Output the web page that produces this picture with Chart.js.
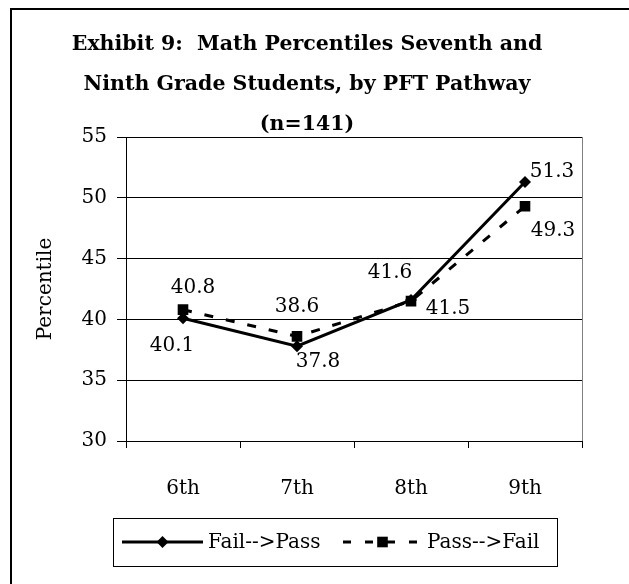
<!DOCTYPE html>
<html><head><meta charset="utf-8">
<script src="https://cdn.jsdelivr.net/npm/chart.js@4/dist/chart.umd.min.js"></script>
<style>
html,body{margin:0;padding:0;background:#fff;overflow:hidden;}
#wrap{position:relative;width:629px;height:584px;overflow:hidden;}
#frame{position:absolute;left:10px;top:8px;width:800px;height:800px;border:2px solid #000;box-sizing:border-box;}
canvas{position:absolute;left:0;top:0;}
</style></head><body>
<div id="wrap"><div id="frame"></div><canvas id="c" width="629" height="584"></canvas></div>
<script>
// ---- data ----
const categories = ['6th', '7th', '8th', '9th'];
const failToPass = [40.1, 37.8, 41.6, 51.3];
const passToFail = [40.8, 38.6, 41.5, 49.3];
const yMin = 30, yMax = 55, yStep = 5;
const seriesNames = ['Fail-->Pass', 'Pass-->Fail'];
const titleLines = ['Exhibit 9:  Math Percentiles Seventh and', 'Ninth Grade Students, by PFT Pathway', '(n=141)'];
const yTitle = 'Percentile';

// ---- styling ----
const FONT = '"DejaVu Serif", "Liberation Serif", serif';
const labelOffsets = [
  [[-11, 28], [21, 16], [-21, -27], [27, -10]],
  [[10, -22], [0, -30], [37, 8], [28, 24]]
];
const DASH = [9, 13];

function drawMarker(ctx, style, x, y, r) {
  ctx.save();
  ctx.fillStyle = '#000';
  ctx.beginPath();
  if (style === 'rectRot') {
    ctx.moveTo(x, y - r); ctx.lineTo(x + r, y); ctx.lineTo(x, y + r); ctx.lineTo(x - r, y); ctx.closePath();
  } else {
    const s = r * Math.SQRT1_2;
    ctx.rect(x - s, y - s, 2 * s, 2 * s);
  }
  ctx.fill();
  ctx.restore();
}

const deco = {
  id: 'deco',
  beforeDatasetsDraw(chart) {
    const ctx = chart.ctx, a = chart.chartArea;
    ctx.save();
    ctx.strokeStyle = '#808080';
    ctx.lineWidth = 1;
    ctx.beginPath();
    ctx.moveTo(Math.round(a.right) + 0.5, a.top);
    ctx.lineTo(Math.round(a.right) + 0.5, a.bottom);
    ctx.stroke();
    ctx.restore();
  },
  afterDraw(chart) {
    const ctx = chart.ctx;
    ctx.save();
    // title
    ctx.fillStyle = '#000';
    ctx.textAlign = 'center';
    ctx.textBaseline = 'alphabetic';
    ctx.font = 'bold 20.5px ' + FONT;
    const tb = [50, 90, 130];
    titleLines.forEach((t, i) => ctx.fillText(t, 307, tb[i]));
    // data labels
    ctx.font = '20px ' + FONT;
    ctx.textBaseline = 'middle';
    chart.data.datasets.forEach((ds, di) => {
      const meta = chart.getDatasetMeta(di);
      meta.data.forEach((pt, i) => {
        const o = labelOffsets[di][i];
        ctx.fillText(ds.data[i].toFixed(1), pt.x + o[0], pt.y + o[1]);
      });
    });
    // legend
    const lx = 113, ly = 518, lw = 444, lh = 48, cy = ly + lh / 2;
    ctx.strokeStyle = '#000';
    ctx.lineWidth = 1;
    ctx.strokeRect(lx + 0.5, ly + 0.5, lw, lh);
    ctx.lineWidth = 3;
    ctx.beginPath(); ctx.moveTo(122, cy); ctx.lineTo(203, cy); ctx.stroke();
    drawMarker(ctx, 'rectRot', 162.5, cy, 6);
    ctx.setLineDash([8, 14]);
    ctx.beginPath(); ctx.moveTo(343, cy); ctx.lineTo(422, cy); ctx.stroke();
    ctx.setLineDash([]);
    drawMarker(ctx, 'rect', 382.5, cy, 7.5);
    ctx.textAlign = 'left';
    ctx.font = '20px ' + FONT;
    ctx.fillText(seriesNames[0], 208, cy + 1);
    ctx.fillText(seriesNames[1], 427, cy + 1);
    ctx.restore();
  }
};

new Chart(document.getElementById('c'), {
  type: 'line',
  data: {
    labels: categories,
    datasets: [
      { label: seriesNames[0], data: failToPass, borderColor: '#000', backgroundColor: '#000', borderWidth: 3,
        pointStyle: 'rectRot', pointRadius: 6, pointBackgroundColor: '#000', pointBorderWidth: 0, tension: 0, order: 2 },
      { label: seriesNames[1], data: passToFail, borderColor: '#000', backgroundColor: '#000', borderWidth: 3, borderDash: DASH,
        pointStyle: 'rect', pointRadius: 7.5, pointBackgroundColor: '#000', pointBorderWidth: 0, tension: 0, order: 1 }
    ]
  },
  options: {
    responsive: false,
    animation: false,
    devicePixelRatio: 1,
    layout: { padding: { top: 137, right: 47, bottom: 0, left: 0 } },
    plugins: { legend: { display: false }, title: { display: false }, tooltip: { enabled: false } },
    scales: {
      x: {
        offset: true,
        grid: { offset: true, drawOnChartArea: false, drawTicks: true, tickLength: 7, color: '#000' },
        border: { display: true, color: '#000', width: 1 },
        ticks: { color: '#000', font: { family: FONT, size: 20 }, padding: 29, maxRotation: 0 },
        afterFit(s) { s.height = 143; }
      },
      y: {
        min: yMin, max: yMax,
        grid: { color: '#000', lineWidth: 1, drawTicks: true, tickLength: 9 },
        border: { display: true, color: '#000', width: 1 },
        ticks: { stepSize: yStep, color: '#000', font: { family: FONT, size: 20 }, padding: 10 },
        title: { display: true, text: yTitle, color: '#000', font: { family: FONT, size: 20 }, padding: { top: 34, bottom: 0 } },
        afterFit(s) { s.width = 126; }
      }
    }
  },
  plugins: [deco]
});
</script>
</body></html>
